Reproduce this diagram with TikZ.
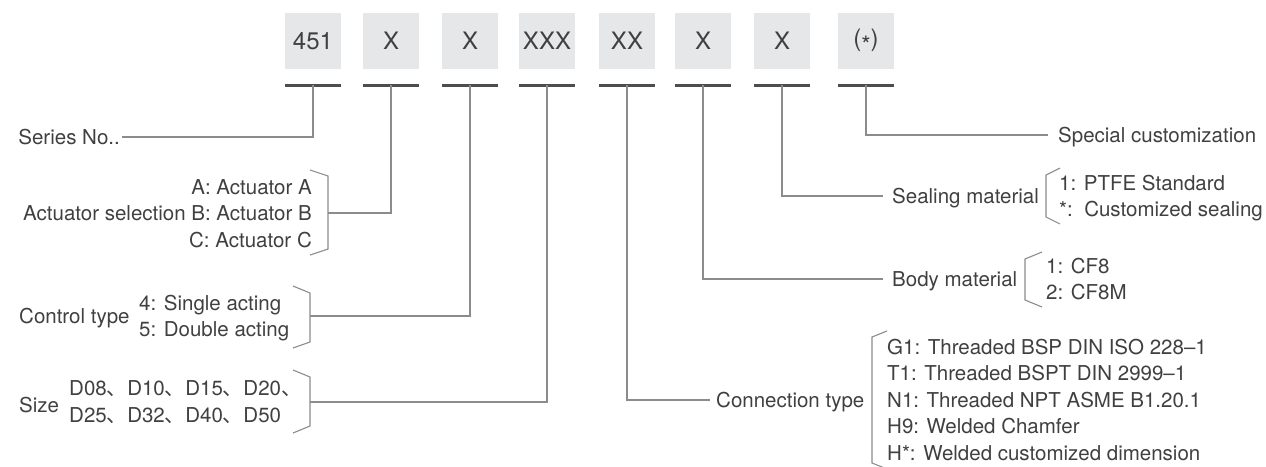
\documentclass[tikz,border=0pt]{standalone}
\usepackage{fontspec}
\setmainfont{TeX Gyre Heros}
\newfontfamily\cjkfont{Noto Sans CJK SC}
\newcommand{\dunhao}{{\cjkfont 、}}
\definecolor{txt}{HTML}{404040}
\definecolor{boxfill}{HTML}{E6E7E8}
\definecolor{barcol}{HTML}{4D4D4D}
\definecolor{linecol}{HTML}{8C8C8C}
\begin{document}
\begin{tikzpicture}[x=1pt,y=-1pt,
  codebox/.style={fill=boxfill, minimum width=56pt, minimum height=56pt, inner sep=0pt, text=txt, font=\fontsize{24}{28}\selectfont},
  lbl/.style={inner sep=0pt, text=txt, text height=14.6pt, text depth=0pt, font=\fontsize{20.5}{24}\selectfont},
  conn/.style={draw=linecol, line width=1.2pt},
  bar/.style={draw=barcol, line width=2.8pt},
  brk/.style={draw=linecol, line width=1.1pt, line join=miter},
]
\useasboundingbox (0,0) rectangle (1266,466);

% code boxes
\node[codebox] (b1) at (313,41) {451};
\node[codebox] (b2) at (391,41) {X};
\node[codebox] (b3) at (470,41) {X};
\node[codebox] (b4) at (547,41) {XXX};
\node[codebox] (b5) at (627,41) {XX};
\node[codebox] (b6) at (703,41) {X};
\node[codebox] (b7) at (782,41) {X};
\node[codebox] (b8) at (866,41) {(\raisebox{-0.28em}{*})};

\foreach \i in {1,...,8}{
  \draw[bar] ([yshift=-16pt]b\i.south west) -- ([yshift=-16pt]b\i.south east);
  \coordinate (v\i) at ([yshift=-16pt]b\i.south);
}

% Series No.
\node[lbl, anchor=east] (series) at (120,137) {Series No..};
\draw[conn] (v1) |- ([xshift=2pt]series.east);

% Actuator selection
\node[lbl, anchor=east] (actA) at (312,187) {A: Actuator A};
\node[lbl, anchor=east] (actB) at (312,213) {Actuator selection B: Actuator B};
\node[lbl, anchor=east] (actC) at (312,240) {C: Actuator C};
\coordinate (actbr) at (328,213);
\draw[brk] (310,170) -- (328,176) -- (328,249) -- (310,255);
\draw[conn] (v2) |- (actbr);

% Control type
\node[lbl, anchor=west] (ctl) at (19,316) {Control type};
\node[lbl, anchor=west] (ctlA) at (139,303) {4: Single acting};
\node[lbl, anchor=west] (ctlB) at (139,329) {5: Double acting};
\coordinate (ctlbr) at (310,316);
\draw[brk] (293,286) -- (310,293) -- (310,342) -- (293,348);
\draw[conn] (v3) |- (ctlbr);

% Size
\node[lbl, anchor=west] (size) at (19,405) {Size};
\node[lbl, anchor=west] (sizeA) at (69,388) {D08\dunhao D10\dunhao D15\dunhao D20\dunhao};
\node[lbl, anchor=west] (sizeB) at (69,415) {D25\dunhao D32\dunhao D40\dunhao D50};
\coordinate (sizebr) at (310,402);
\draw[brk] (293,370) -- (310,377) -- (310,426) -- (293,433);
\draw[conn] (v4) |- (sizebr);

% Connection type
\node[lbl, anchor=west] (ctype) at (716,400) {Connection type};
\draw[conn] (v5) |- ([xshift=-6pt]ctype.west);
\draw[brk] (887,331) -- (872,337) -- (872,463) -- (887,469);
\node[lbl, anchor=west] (ctA) at (887,347) {G1: Threaded BSP DIN ISO 228--1};
\node[lbl, anchor=west] (ctB) at (887,373.5) {T1: Threaded BSPT DIN 2999--1};
\node[lbl, anchor=west] (ctC) at (887,400) {N1: Threaded NPT ASME B1.20.1};
\node[lbl, anchor=west] (ctD) at (887,426.5) {H9: Welded Chamfer};
\node[lbl, anchor=west] (ctE) at (887,453) {H*: Welded customized dimension};

% Body material
\node[lbl, anchor=west] (body) at (892,279) {Body material};
\draw[conn] (v6) |- ([xshift=-9pt]body.west);
\draw[brk] (1042,252) -- (1025,259) -- (1025,300) -- (1042,307);
\node[lbl, anchor=west] (bodyA) at (1046,266) {1: CF8};
\node[lbl, anchor=west] (bodyB) at (1046,292) {2: CF8M};

% Sealing material
\node[lbl, anchor=west] (seal) at (892,196) {Sealing material};
\draw[conn] (v7) |- ([xshift=-9pt]seal.west);
\draw[brk] (1060,168) -- (1046,175) -- (1046,217) -- (1060,224);
\node[lbl, anchor=west] (sealA) at (1059,183) {1: PTFE Standard};
\node[lbl, anchor=west] (sealB) at (1059,209) {*:\ \ Customized sealing};

% Special customization
\node[lbl, anchor=west] (spec) at (1058,135) {Special customization};
\draw[conn] (v8) |- ([xshift=-10pt]spec.west);
\end{tikzpicture}
\end{document}
